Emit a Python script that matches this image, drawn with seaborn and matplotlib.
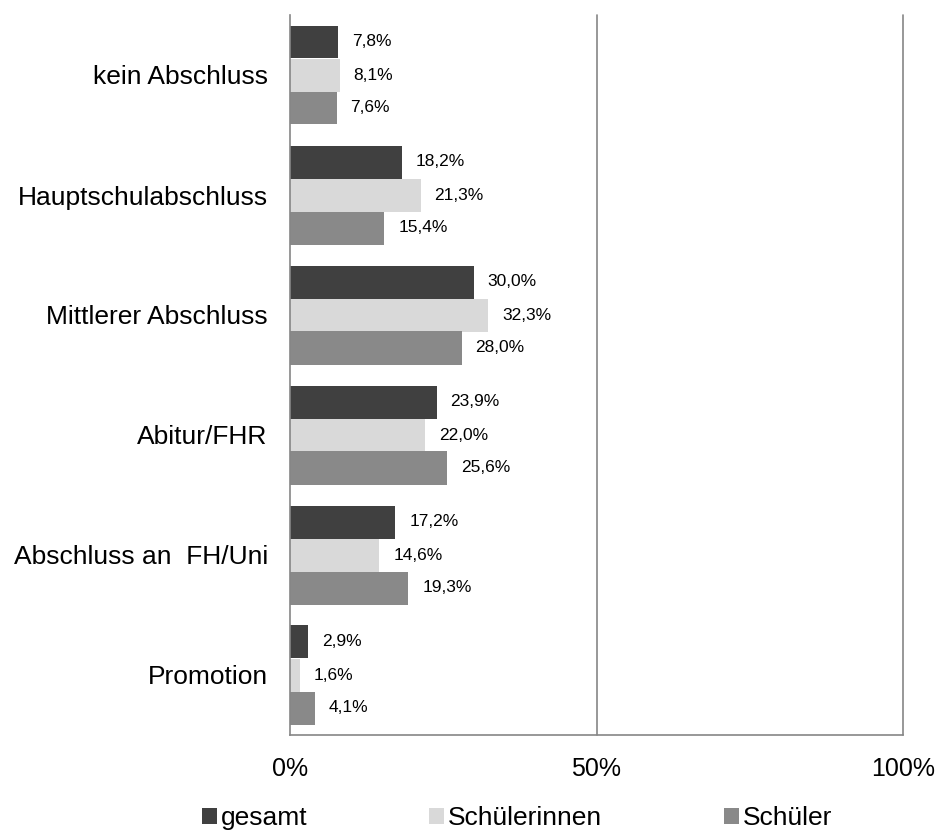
import pandas as pd
import numpy as np
import matplotlib
matplotlib.use("Agg")
import matplotlib.pyplot as plt
import seaborn as sns
from matplotlib.patches import Patch

categories = ["kein Abschluss", "Hauptschulabschluss", "Mittlerer Abschluss",
              "Abitur/FHR", "Abschluss an  FH/Uni", "Promotion"]
series = ["gesamt", "Schülerinnen", "Schüler"]
gesamt = [7.8, 18.2, 30.0, 23.9, 17.2, 2.9]
schuelerinnen = [8.1, 21.3, 32.3, 22.0, 14.6, 1.6]
schueler = [7.6, 15.4, 28.0, 25.6, 19.3, 4.1]
colors = ["#404040", "#d9d9d9", "#898989"]
xticks = [0, 50, 100]
xtick_labels = ["0%", "50%", "100%"]

sns.set_style("white")
plt.rcParams["font.family"] = ["Liberation Sans", "DejaVu Sans"]
plt.rcParams["text.color"] = "black"
plt.rcParams["xtick.labelcolor"] = "black"
plt.rcParams["ytick.labelcolor"] = "black"

df = pd.DataFrame({
    "Kategorie": categories * 3,
    "Serie": np.repeat(series, len(categories)),
    "Wert": gesamt + schuelerinnen + schueler,
})

fig = plt.figure(figsize=(9.36, 8.35), dpi=100)
ax = fig.add_axes([290 / 936, 1 - 735 / 835, 613 / 936, 720 / 835])

sns.barplot(data=df, x="Wert", y="Kategorie", hue="Serie", order=categories,
            hue_order=series, palette=colors, saturation=1, width=0.825,
            orient="y", ax=ax, legend=False, linewidth=0)

# Datenbeschriftungen
for cont in ax.containers:
    for bar in cont:
        w = bar.get_width()
        ax.annotate(f"{w:.1f}%".replace(".", ","),
                    (w, bar.get_y() + bar.get_height() / 2),
                    xytext=(10, 0), textcoords="offset points",
                    va="center", ha="left", fontsize=12.5, color="black")

ax.set_xlim(0, 100)
ax.set_ylim(len(categories) - 0.5, -0.5)
ax.set_xlabel("")
ax.set_ylabel("")

gray = "#868686"
for xv in xticks[1:]:
    ax.axvline(xv, color=gray, lw=1.2, zorder=0, clip_on=False)

for side in ["top", "right"]:
    ax.spines[side].set_visible(False)
for side in ["left", "bottom"]:
    ax.spines[side].set_color(gray)
    ax.spines[side].set_linewidth(1.2)

ax.set_xticks(xticks)
ax.set_xticklabels(xtick_labels, fontsize=18)
ax.tick_params(axis="x", length=0, pad=16)

ax.set_yticks(range(len(categories)))
ax.set_yticklabels(categories, fontsize=19)
ax.set_yticks(np.arange(-0.5, len(categories), 1), minor=True)
ax.tick_params(axis="y", which="major", length=0, pad=16)
ax.tick_params(axis="y", which="minor", length=6, width=1.2, color=gray,
               direction="out")

handles = [Patch(facecolor=c, edgecolor="none") for c in colors]
fig.legend(handles=handles, labels=series, ncol=3, loc="center left",
           bbox_to_anchor=(202 / 936, 1 - 818 / 835), frameon=False,
           fontsize=19, handlelength=0.57, handleheight=0.57,
           handletextpad=0.15, columnspacing=4.6, borderpad=0,
           borderaxespad=0)

fig.savefig("out.png", dpi=100)
